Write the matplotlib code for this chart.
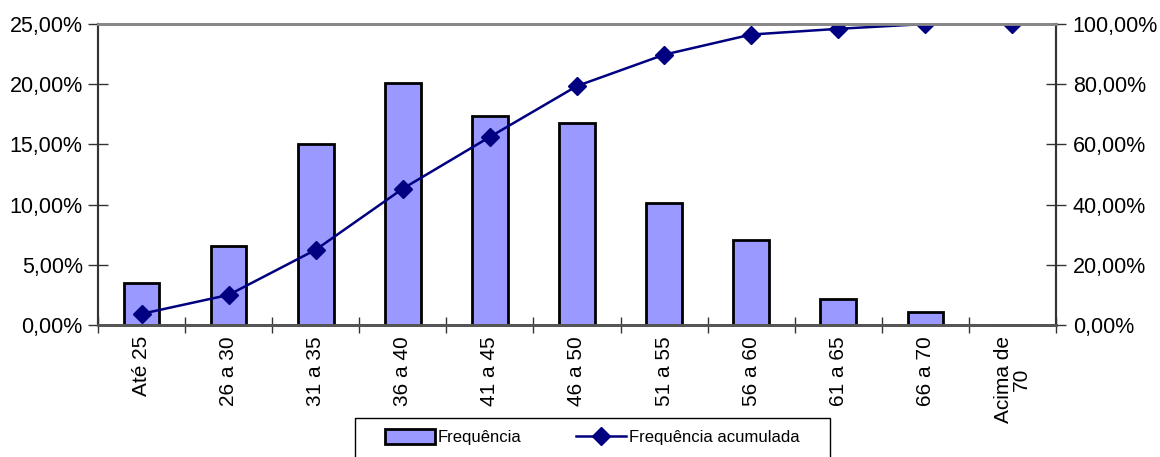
import numpy as np
import matplotlib
matplotlib.use('Agg')
import matplotlib.pyplot as plt
from matplotlib.ticker import FuncFormatter
from matplotlib.patches import Rectangle

plt.rcParams['font.family'] = ['Liberation Sans', 'DejaVu Sans']

# faixas etarias e frequencias
faixas = ['Até 25', '26 a 30', '31 a 35', '36 a 40', '41 a 45', '46 a 50',
          '51 a 55', '56 a 60', '61 a 65', '66 a 70', 'Acima de\n70']
frequencia = [3.5, 6.6, 15.0, 20.1, 17.4, 16.8, 10.15, 7.05, 2.15, 1.05, 0.0]
acumulada = [3.7, 10.0, 25.0, 45.3, 62.5, 79.4, 89.8, 96.5, 98.4, 100.0, 100.0]

W, H = 1160, 457
fig = plt.figure(figsize=(W / 100, H / 100), dpi=100)
ax = fig.add_axes([98 / W, 1 - 325 / H, (1056 - 98) / W, (325 - 24) / H])
ax2 = ax.twinx()

x = np.arange(len(faixas))
ax.bar(x, frequencia, width=0.41, color='#9999ff', edgecolor='black',
       linewidth=2, label='Frequência', zorder=2)
ax2.plot(x, acumulada, color='#000080', linewidth=1.8, marker='D',
         markersize=9.5, label='Frequência acumulada')

ax.set_xlim(-0.5, len(faixas) - 0.5)
ax.set_ylim(0, 25)
ax2.set_ylim(0, 100)
ax.set_yticks(np.arange(0, 26, 5))
ax2.set_yticks(np.arange(0, 101, 20))

fmt = FuncFormatter(lambda v, p: ('%.2f%%' % v).replace('.', ','))
ax.yaxis.set_major_formatter(fmt)
ax2.yaxis.set_major_formatter(fmt)

ax.set_xticks(np.arange(-0.5, len(faixas), 1))
ax.set_xticklabels([])
ax.set_xticks(x, minor=True)
ax.set_xticklabels(faixas, minor=True, rotation=90, va='top', ha='center',
                   fontsize=15, linespacing=0.9)
ax.tick_params(axis='x', which='major', direction='inout', length=12,
               width=1, color='#333333')
ax.tick_params(axis='x', which='minor', length=0, pad=8)
ax.tick_params(axis='y', direction='inout', length=14, width=1,
               labelsize=15.5, pad=4, color='#333333')
ax2.tick_params(axis='y', direction='inout', length=14, width=1,
                labelsize=15.5, pad=5, color='#333333')

for a in (ax, ax2):
    a.spines['top'].set_color('#888888')
    a.spines['top'].set_linewidth(2)
    a.spines['bottom'].set_color('#555555')
    a.spines['bottom'].set_linewidth(2)
    a.spines['left'].set_color('#333333')
    a.spines['left'].set_linewidth(1.5)
    a.spines['right'].set_color('#333333')
    a.spines['right'].set_linewidth(1.5)

# legenda com moldura propria (a caixa sai pela borda de baixo)
h1, l1 = ax.get_legend_handles_labels()
h2, l2 = ax2.get_legend_handles_labels()
leg = fig.legend(h1 + h2, l1 + l2, loc='center left',
                 bbox_to_anchor=(385 / W, 1 - 437 / H),
                 ncol=2, fontsize=12, frameon=False,
                 borderpad=0, borderaxespad=0, handlelength=3.0,
                 handleheight=1.0, handletextpad=0.15, columnspacing=3.3)
fig.patches.append(Rectangle((355 / W, -0.05), 475 / W, 0.05 + 1 - 418 / H,
                             transform=fig.transFigure, fill=False,
                             edgecolor='black', linewidth=1))

fig.savefig('out.png', dpi=100)
